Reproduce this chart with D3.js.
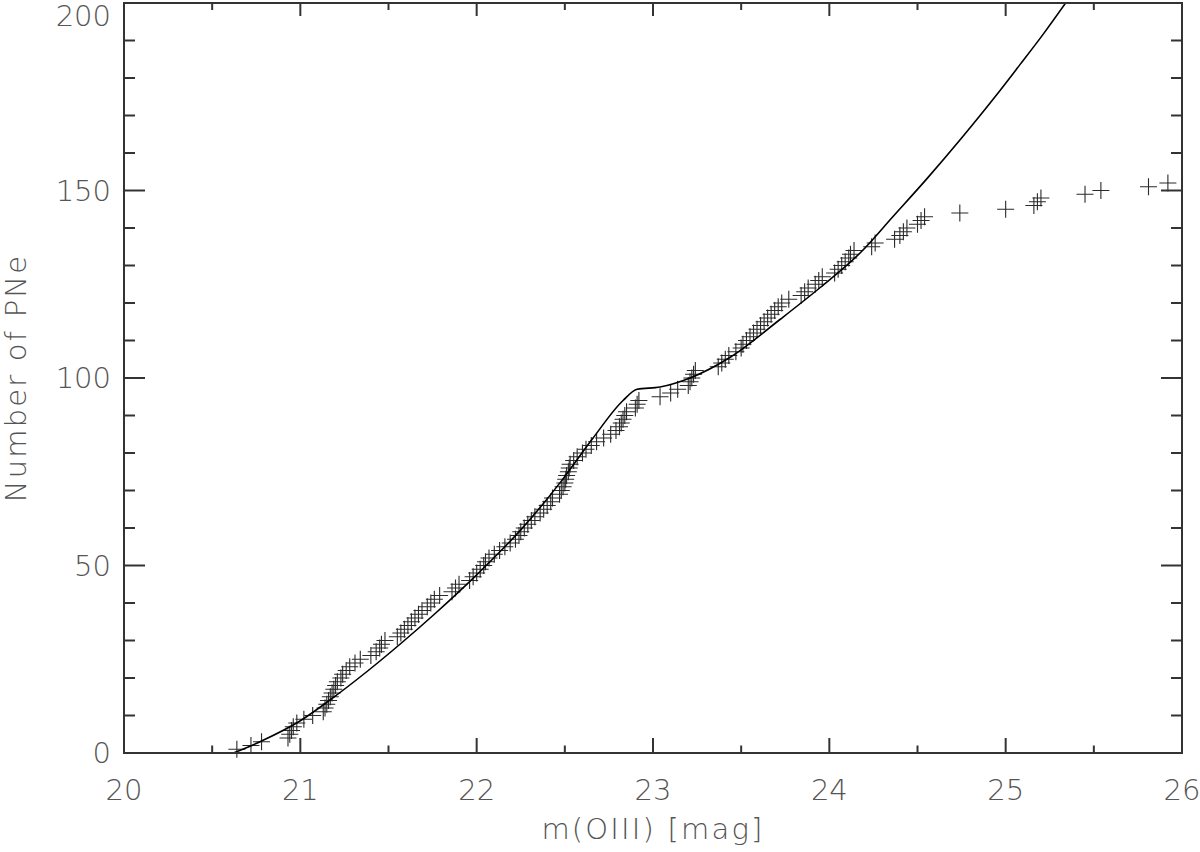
<!DOCTYPE html>
<html>
<head>
<meta charset="utf-8">
<script src="https://cdn.jsdelivr.net/npm/d3@7"></script>
<style>
  html, body { margin: 0; padding: 0; background: #fff; }
  svg text { font-family: 'DejaVu Sans', sans-serif; font-weight: 200; fill: #555; }
</style>
</head>
<body>
<div id="chart"></div>
<script>
// cumulative PN counts: magnitude of the n-th PN (n = 1, 2, ...)
const pnMags = [
  20.64, 20.72, 20.78, 20.93, 20.94, 20.95, 20.96, 20.98, 21.02, 21.07,
  21.13, 21.14, 21.15, 21.16, 21.17, 21.18, 21.19, 21.20, 21.21, 21.23,
  21.24, 21.26, 21.28, 21.31, 21.34, 21.40, 21.43, 21.45, 21.46, 21.48,
  21.55, 21.57, 21.59, 21.61, 21.63, 21.65, 21.67, 21.69, 21.72, 21.74,
  21.76, 21.79, 21.86, 21.88, 21.90, 21.96, 21.98, 22.00, 22.02, 22.04,
  22.05, 22.07, 22.10, 22.13, 22.16, 22.19, 22.22, 22.24, 22.25, 22.27,
  22.29, 22.31, 22.33, 22.36, 22.38, 22.40, 22.42, 22.43, 22.47, 22.48,
  22.49, 22.50, 22.505, 22.51, 22.52, 22.525, 22.53, 22.55, 22.57, 22.60,
  22.62, 22.65, 22.68, 22.72, 22.76, 22.79, 22.81, 22.82, 22.83, 22.84,
  22.85, 22.90, 22.91, 22.92, 23.04, 23.10, 23.14, 23.20, 23.21, 23.22,
  23.23, 23.24, 23.37, 23.39, 23.41, 23.43, 23.47, 23.50, 23.51, 23.53,
  23.55, 23.57, 23.59, 23.61, 23.63, 23.65, 23.67, 23.69, 23.71, 23.73,
  23.77, 23.84, 23.86, 23.88, 23.92, 23.94, 23.96, 24.03, 24.05, 24.07,
  24.09, 24.11, 24.12, 24.14, 24.24, 24.26, 24.37, 24.40, 24.42, 24.44,
  24.50, 24.52, 24.54, 24.74, 25.00, 25.16, 25.18, 25.20, 25.45, 25.54,
  25.81, 25.92
];

// model curve (magnitude, cumulative number)
const modelMag = [20.62, 20.78, 21.0, 21.17, 21.38, 21.57, 21.76, 22.0, 22.25, 22.48, 22.66, 22.83, 22.91,
                  23.04, 23.21, 23.44, 23.72, 23.95, 24.18, 24.36, 24.56, 24.75, 24.94, 25.08, 25.21, 25.34];
const modelN   = [0, 3.2, 8.6, 14.2, 21.8, 29.2, 37, 47.5, 59.5, 72.5, 84, 94, 97,
                  97.6, 100, 105.6, 115.6, 124.2, 133.6, 143, 153.5, 164, 175, 183.5, 191.5, 200];

const xTicks = [20, 21, 22, 23, 24, 25, 26];
const xMinor = [20.5, 21.5, 22.5, 23.5, 24.5, 25.5];
const yTicks = [0, 50, 100, 150, 200];
const yMinor = [10, 20, 30, 40, 60, 70, 80, 90, 110, 120, 130, 140, 160, 170, 180, 190];

const width = 1200;
const height = 852;
const margin = { top: 3, right: 18, bottom: 99, left: 124 };
const w = width - margin.left - margin.right;
const h = height - margin.top - margin.bottom;

const x = d3.scaleLinear().domain([20, 26]).range([0, w]);
const y = d3.scaleLinear().domain([0, 200]).range([h, 0]);

const svg = d3.select('#chart')
  .append('svg')
    .attr('width', width)
    .attr('height', height)
  .append('g')
    .attr('transform', 'translate(' + margin.left + ',' + margin.top + ')');

svg.append('defs').append('clipPath').attr('id', 'clip')
  .append('rect').attr('width', w).attr('height', h);

// data crosses
const pts = pnMags.map((m, i) => ({ m: m, n: i + 1 }));
const arm = 8.5;
svg.append('g')
    .attr('stroke', '#2a2a2a')
    .attr('stroke-width', 1.1)
  .selectAll('path')
  .data(pts)
  .enter().append('path')
    .attr('d', (d) => {
      const px = x(d.m);
      const py = y(d.n);
      return 'M' + (px - arm) + ',' + py + 'H' + (px + arm) +
             'M' + px + ',' + (py - arm) + 'V' + (py + arm);
    });

// model line
const line = d3.line()
  .x((d) => x(d[0]))
  .y((d) => y(d[1]))
  .curve(d3.curveMonotoneX);

svg.append('path')
    .datum(modelMag.map((m, i) => [m, modelN[i]]))
    .attr('clip-path', 'url(#clip)')
    .attr('fill', 'none')
    .attr('stroke', '#000')
    .attr('stroke-width', 1.6)
    .attr('d', line);

// axes: ticks on all four sides, pointing inward
function ticks (scale, vals, len, orient) {
  const g = svg.append('g').attr('stroke', '#333').attr('stroke-width', 2);
  g.selectAll('line').data(vals).enter().append('line')
    .each(function (v) {
      const el = d3.select(this);
      if (orient === 'bottom') el.attr('x1', scale(v)).attr('x2', scale(v)).attr('y1', h).attr('y2', h - len);
      if (orient === 'top') el.attr('x1', scale(v)).attr('x2', scale(v)).attr('y1', 0).attr('y2', len);
      if (orient === 'left') el.attr('y1', scale(v)).attr('y2', scale(v)).attr('x1', 0).attr('x2', len);
      if (orient === 'right') el.attr('y1', scale(v)).attr('y2', scale(v)).attr('x1', w).attr('x2', w - len);
    });
}
ticks(x, xTicks.slice(1, -1), 15, 'bottom');
ticks(x, xMinor, 7.5, 'bottom');
ticks(x, xTicks.slice(1, -1), 13, 'top');
ticks(x, xMinor, 7, 'top');
ticks(y, yTicks.slice(1, -1), 21, 'left');
ticks(y, yMinor, 11, 'left');
ticks(y, yTicks.slice(1, -1), 21, 'right');
ticks(y, yMinor, 11, 'right');

svg.append('rect')
    .attr('width', w)
    .attr('height', h)
    .attr('fill', 'none')
    .attr('stroke', '#333')
    .attr('stroke-width', 2);

// tick labels
svg.append('g').selectAll('text').data(xTicks).enter().append('text')
    .attr('x', (d) => x(d))
    .attr('y', h + 47)
    .attr('text-anchor', 'middle')
    .style('font-size', '29px')
    .text((d) => d);

// the top label is pushed down so that it stays inside the page
svg.append('g').selectAll('text').data(yTicks).enter().append('text')
    .attr('x', -13)
    .attr('y', (d) => Math.max(y(d), 13))
    .attr('dy', '0.36em')
    .attr('text-anchor', 'end')
    .style('font-size', '29px')
    .text((d) => d);

// axis titles
svg.append('text')
    .attr('x', w / 2)
    .attr('y', h + 86)
    .attr('text-anchor', 'middle')
    .style('font-size', '29px')
    .style('letter-spacing', '2.2px')
    .text('m(OIII) [mag]');

svg.append('text')
    .attr('transform', 'rotate(-90)')
    .attr('x', -h / 2)
    .attr('y', -98)
    .attr('text-anchor', 'middle')
    .style('font-size', '29px')
    .style('letter-spacing', '2.2px')
    .text('Number of PNe');
</script>
</body>
</html>
